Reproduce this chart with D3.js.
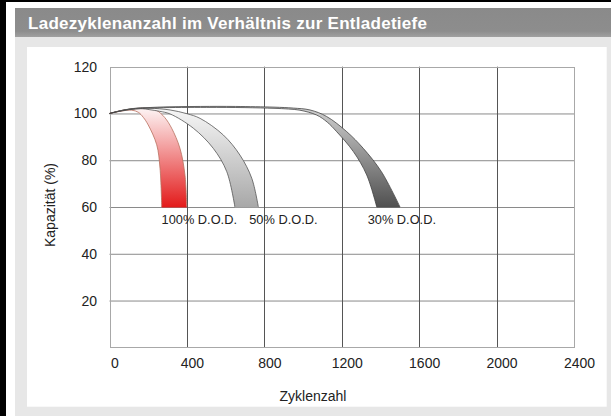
<!DOCTYPE html>
<html><head><meta charset="utf-8">
<script src="https://cdn.jsdelivr.net/npm/d3@7"></script>
<style>
html,body{margin:0;padding:0;background:#fff;}
svg{display:block;font-family:"Liberation Sans",Arial,sans-serif;}
</style></head>
<body>
<svg id="chart" width="611" height="416"></svg>
<script>
const title = "Ladezyklenanzahl im Verhältnis zur Entladetiefe";
const xLabel = "Zyklenzahl";
const yLabel = "Kapazität (%)";
const xTicks = [0, 400, 800, 1200, 1600, 2000, 2400];
const yTicks = [20, 40, 60, 80, 100, 120];

// band boundaries: [cycles, capacity %]
const outer100 = [[0,100],[70,101.4],[150,102.2],[205,102.2],[244,101.3],[285,98.3],[321,93.7],[364,85.1],[390,73.6],[399,60]];
const inner100 = [[0,100],[60,101.0],[115,101.4],[149,100.5],[175,98.3],[200,95.1],[244,86.6],[261,76.6],[270,60]];
const outer50 = [[0,100],[80,101.6],[160,102.4],[209,102.3],[313,101.5],[400,99.9],[468,97.9],[588,90.8],[674,82.2],[735,72.3],[769,60]];
const inner50 = [[0,100],[80,101.5],[160,102.1],[209,101.6],[260,100.9],[313,99.8],[433,93.7],[536,85.1],[606,75.1],[648,60]];
const outer30 = [[0,100],[100,101.8],[250,102.7],[470,103.0],[650,103.0],[850,102.7],[950,102.3],[1036,101.5],[1122,98.7],[1226,92.2],[1311,85.1],[1405,75.1],[1501,60]];
const inner30 = [[0,100],[100,101.6],[250,102.4],[500,102.6],[700,102.5],[850,102.2],[925,101.9],[984,101.4],[1071,99.3],[1125,96.3],[1174,92.2],[1260,83.7],[1329,73.7],[1381,60]];

const bandNames = ["100% D.O.D.", "50% D.O.D.", "30% D.O.D."];
const bandOuter = [outer100, outer50, outer30];
const bandInner = [inner100, inner50, inner30];
const bandLabelX = [269, 722, 1334];
const bandTop = ["#fdf3f3", "#f6f6f6", "#cfcfcf"];
const bandBottom = ["#e31b1b", "#a8a8a8", "#505050"];
const bandStroke = ["#b8705e", "#555555", "#444444"];

const svg = d3.select("#chart");
const W = 611, H = 416;

// frame / background
svg.append("rect").attr("x",0).attr("y",0).attr("width",W).attr("height",H).attr("fill","#fff");
svg.append("rect").attr("x",0).attr("y",0).attr("width",6).attr("height",H).attr("fill","#000");
svg.append("rect").attr("x",0).attr("y",0).attr("width",W).attr("height",2).attr("fill","#000");
svg.append("rect").attr("x",15).attr("y",37).attr("width",W-15).attr("height",H-37).attr("fill","#e7e7e7");
const tg = svg.append("defs").append("linearGradient").attr("id","tbar").attr("x1",0).attr("y1",0).attr("x2",0).attr("y2",1);
tg.append("stop").attr("offset","0").attr("stop-color","#8a8a8a");
tg.append("stop").attr("offset","0.8").attr("stop-color","#8d8d8d");
tg.append("stop").attr("offset","1").attr("stop-color","#a0a0a0");
svg.append("rect").attr("x",15).attr("y",8).attr("width",W-15).attr("height",29).attr("fill","url(#tbar)");
svg.append("text").attr("x",28).attr("y",29.3).attr("fill","#fff")
  .attr("font-size",17).attr("font-weight","bold")
  .attr("textLength",399).attr("lengthAdjust","spacing").text(title);
svg.append("rect").attr("x",27).attr("y",47).attr("width",606.7-27).attr("height",406.7-47).attr("fill","#fff");

const x = d3.scaleLinear().domain([0,2400]).range([109.5,574]);
const y = d3.scaleLinear().domain([0,120]).range([347.3,66.7]);

// grid
const grid = svg.append("g");
grid.selectAll("line.h").data(yTicks.filter(v=>v<120)).join("line")
  .attr("x1",x(0)).attr("x2",x(2400)).attr("y1",d=>y(d)+0.5).attr("y2",d=>y(d)+0.5)
  .attr("stroke","#8a8a8a").attr("stroke-width",1);
grid.selectAll("line.v").data(xTicks.filter(v=>v>0 && v<2400)).join("line")
  .attr("y1",y(0)).attr("y2",y(120)).attr("x1",d=>Math.round(x(d))+0.5).attr("x2",d=>Math.round(x(d))+0.5)
  .attr("stroke","#555").attr("stroke-width",1);
grid.append("rect").attr("x",Math.round(x(0))+0.5).attr("y",Math.round(y(120))+0.5)
  .attr("width",Math.round(x(2400))-Math.round(x(0))).attr("height",Math.round(y(0))-Math.round(y(120)))
  .attr("fill","none").attr("stroke","#a8a8a8").attr("stroke-width",1);

// bands
const defs = svg.append("defs");
const line = d3.line().x(d=>x(d[0])).y(d=>y(d[1])).curve(d3.curveCatmullRom.alpha(0.5));
const bands = svg.append("g");
bandNames.forEach((name,i)=>{
  const gid = "bandGrad"+i;
  const g = defs.append("linearGradient").attr("id",gid).attr("gradientUnits","userSpaceOnUse")
    .attr("x1",0).attr("x2",0).attr("y1",y(102)).attr("y2",y(60));
  g.append("stop").attr("offset","0").attr("stop-color",bandTop[i]);
  g.append("stop").attr("offset","1").attr("stop-color",bandBottom[i]);
  const o = line(bandOuter[i]);
  const inn = line(bandInner[i].slice().reverse());
  const area = o + "L" + inn.slice(1) + "Z";
  bands.append("path").attr("d",area).attr("fill","url(#"+gid+")").attr("stroke","none");
  bands.append("path").attr("d",line(bandOuter[i])).attr("fill","none").attr("stroke",bandStroke[i]).attr("stroke-width",0.8);
  bands.append("path").attr("d",line(bandInner[i])).attr("fill","none").attr("stroke",bandStroke[i]).attr("stroke-width",0.8);
  bands.append("line").attr("x1",x(bandInner[i][bandInner[i].length-1][0])).attr("x2",x(bandOuter[i][bandOuter[i].length-1][0]))
    .attr("y1",y(60)).attr("y2",y(60)).attr("stroke",bandBottom[i]).attr("stroke-width",1);
});

// band labels
svg.append("g").selectAll("text").data(bandNames).join("text")
  .attr("x",(d,i)=>x(bandLabelX[i])).attr("y",y(60)+17)
  .attr("font-size",12.8).attr("fill","#222").text(d=>d);

// axes labels via d3 axes
const xAxis = d3.axisBottom(x).tickValues(xTicks).tickSize(0).tickPadding(0).tickFormat(d3.format("d"));
const gx = svg.append("g").attr("transform",`translate(5,${y(0)+11})`).call(xAxis);
gx.select(".domain").remove();
gx.selectAll("text").attr("font-size",14).attr("fill","#222").attr("font-family","Liberation Sans, Arial, sans-serif");

const yAxis = d3.axisLeft(y).tickValues(yTicks).tickSize(0).tickPadding(12.5).tickFormat(d3.format("d"));
const gy = svg.append("g").attr("transform",`translate(${x(0)},0)`).call(yAxis);
gy.select(".domain").remove();
gy.selectAll("text").attr("font-size",14).attr("fill","#222").attr("font-family","Liberation Sans, Arial, sans-serif");

svg.append("text").attr("x",313).attr("y",401).attr("text-anchor","middle")
  .attr("font-size",14).attr("fill","#222").text(xLabel);
svg.append("text").attr("transform","translate(55,205) rotate(-90)").attr("text-anchor","middle")
  .attr("font-size",14).attr("fill","#222").text(yLabel);
</script>
</body></html>
